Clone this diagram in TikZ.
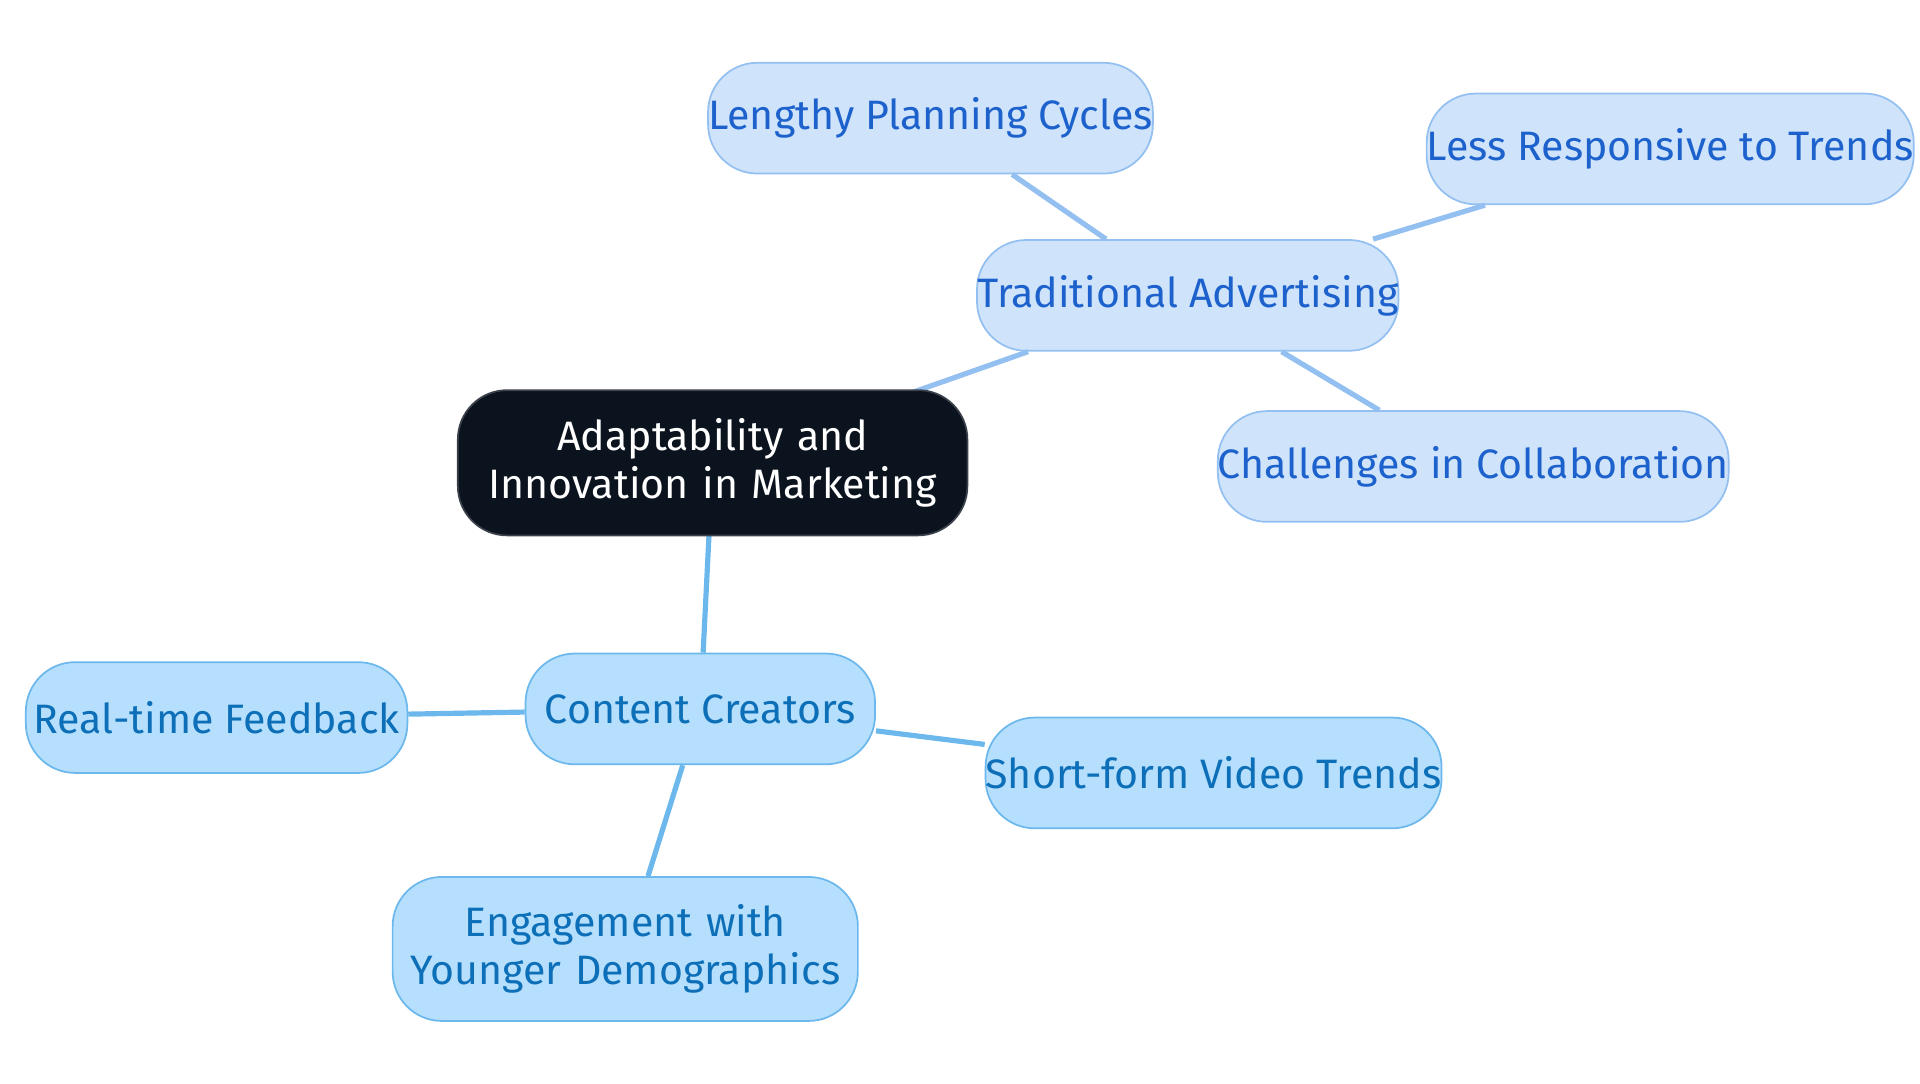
\documentclass[tikz,border=0pt]{standalone}
\usepackage{fontspec}
\setmainfont{Fira Sans}
\definecolor{rootfill}{HTML}{0B131E}
\definecolor{tafill}{HTML}{CFE3FB}
\definecolor{tadraw}{HTML}{93C0F0}
\definecolor{tatext}{HTML}{1D62CC}
\definecolor{ccfill}{HTML}{B5DFFC}
\definecolor{ccdraw}{HTML}{6CB8EC}
\definecolor{cctext}{HTML}{0C6FB8}
\tikzset{
  box/.style = {rounded corners = 0.4cm, minimum height = 0.9cm, align = center,
    font = \fontsize{9.5}{11}\selectfont, inner sep = 0pt},
  tabox/.style = {box, fill = tafill, draw = tadraw, text = tatext},
  ccbox/.style = {box, fill = ccfill, draw = ccdraw, text = cctext},
  taline/.style = {draw = tadraw, line width = 1.2pt},
  ccline/.style = {draw = ccdraw, line width = 1.2pt}
}
\begin{document}
\begin{tikzpicture}
		%%%%%%%%%%%%%
		\useasboundingbox (0, 0) rectangle (15.6, -8.8);
		%%%%%%%%%%%%%
		\node (trad) [tabox, minimum width = 3.32cm] at (9.65, -2.40) {Traditional Advertising};
		\node (cont) [ccbox, minimum width = 2.84cm] at (5.69, -5.76) {Content Creators};
		%%%%%%%%%%%%%
		\draw [taline] (trad) to (5.79, -3.76);
		\draw [ccline] (cont) to (5.79, -3.76);
		\node (root) [box, fill = rootfill, draw = rootfill!80, text = white, minimum width = 4.14cm,
			minimum height = 1.18cm, text width = 3.8cm] at (5.79, -3.76) {Adaptability and Innovation in Marketing};
		%%%%%%%%%%%%%
		\node (plan) [tabox, minimum width = 3.56cm] at (7.56, -0.96) {Lengthy Planning Cycles};
		\node (resp) [tabox, minimum width = 3.78cm] at (13.57, -1.21) {Less Responsive to Trends};
		\node (coll) [tabox, minimum width = 3.89cm] at (11.97, -3.79) {Challenges in Collaboration};
		\node (feed) [ccbox, minimum width = 3.10cm] at (1.76, -5.83) {Real-time Feedback};
		\node (video) [ccbox, minimum width = 3.57cm] at (9.86, -6.28) {Short-form Video Trends};
		\node (young) [ccbox, minimum width = 3.78cm, minimum height = 1.17cm, text width = 3.5cm]
			at (5.08, -7.71) {Engagement with Younger Demographics};
		%%%%%%%%%%%%%
		\draw [taline] (trad) to (plan);
		\draw [taline] (trad) to (resp);
		\draw [taline] (trad) to (coll);
		\draw [ccline] (cont) to (feed);
		\draw [ccline] (cont) to (video);
		\draw [ccline] (cont) to (young);
		%%%%%%%%%%%%%
\end{tikzpicture}
\end{document}
